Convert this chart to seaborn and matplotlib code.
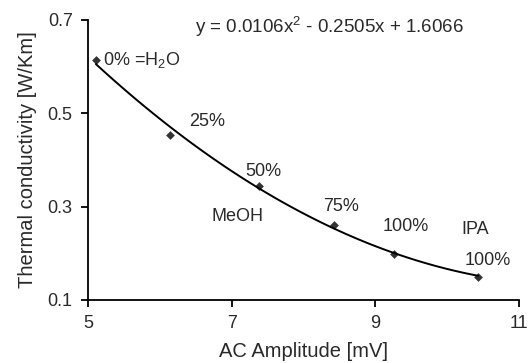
import matplotlib
matplotlib.use("Agg")
import matplotlib.pyplot as plt
import seaborn as sns
import numpy as np

# data
amplitude = [5.11, 6.14, 7.38, 8.43, 9.26, 10.43]
conductivity = [0.614, 0.454, 0.344, 0.261, 0.198, 0.150]
point_labels = ["0% =H$_2$O", "25%", "50%", "75%", "100%", "100%"]
label_offsets = [(5, 0), (13.7, 9.7), (-9.6, 10.7), (-7.9, 13), (-7.9, 19.9), (-10, 11.5)]
solvent_labels = [("MeOH", 6.725, 0.279), ("IPA", 10.2, 0.251)]
equation = "y = 0.0106x$^2$ - 0.2505x + 1.6066"

sns.set_style("ticks")
plt.rcParams['font.family'] = ['Liberation Sans', 'DejaVu Sans']
plt.rcParams['mathtext.fontset'] = 'custom'
plt.rcParams['mathtext.rm'] = 'Liberation Sans'
plt.rcParams['mathtext.it'] = 'Liberation Sans'

txt = "#2a2a2a"

fig = plt.figure(figsize=(5.28, 3.63), dpi=100)
ax = fig.add_axes([0.1667, 0.1736, 0.8163, 0.7714])

# scatter + 2nd order polynomial trend line
sns.regplot(x=amplitude, y=conductivity, order=2, ci=None, ax=ax,
            marker="D", color="black",
            scatter_kws={"s": 20, "linewidths": 0},
            line_kws={"linewidth": 1.4})

for xv, yv, lab, off in zip(amplitude, conductivity, point_labels, label_offsets):
    ax.annotate(lab, (xv, yv), xytext=off, textcoords="offset points",
                fontsize=13, color=txt, va="center", ha="left")

for lab, xv, yv in solvent_labels:
    ax.text(xv, yv, lab, fontsize=13, color=txt, va="center", ha="left")

ax.text(0.248, 0.975, equation, transform=ax.transAxes, fontsize=13.5,
        color=txt, va="center", ha="left")

ax.set_xlim(5, 11)
ax.set_ylim(0.1, 0.7)
ax.set_xticks([5, 7, 9, 11])
ax.set_yticks([0.1, 0.3, 0.5, 0.7])
ax.set_yticklabels(["0.1", "0.3", "0.5", "0.7"])
ax.set_xlabel("AC Amplitude [mV]", fontsize=14.5, color=txt, labelpad=7)
ax.set_ylabel("Thermal conductivity [W/Km]", fontsize=14.5, color=txt, labelpad=8)
ax.tick_params(axis="both", direction="out", length=5, width=1.3, labelsize=13,
               pad=6, colors="black", labelcolor=txt)
for s in ["left", "bottom"]:
    ax.spines[s].set_linewidth(1.3)
    ax.spines[s].set_color("black")
sns.despine(ax=ax)

fig.savefig("out.png", dpi=100)
